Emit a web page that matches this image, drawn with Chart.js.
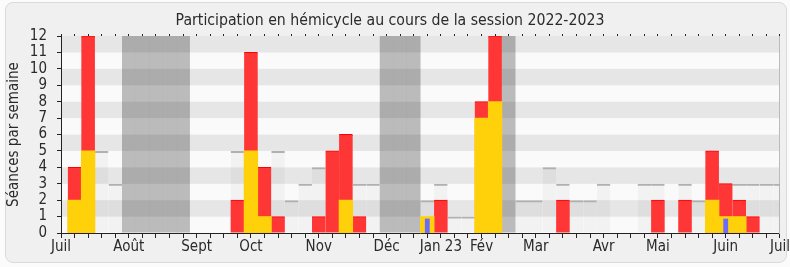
<!DOCTYPE html>
<html>
<head>
<meta charset="utf-8">
<script src="https://cdn.jsdelivr.net/npm/chart.js@4.4.1/dist/chart.umd.min.js"></script>
<style>
  html, body { margin: 0; padding: 0; background: #fbfbfb; }
  #wrap { position: relative; width: 790px; height: 267px; }
  #panel { position: absolute; left: 5px; top: 2px; width: 782px; height: 261px; box-sizing: border-box;
           border: 1px solid #dadada; border-radius: 8px; background: #f0f0f0; }
  canvas { position: absolute; left: 0; top: 0; }
</style>
</head>
<body>
<div id="wrap">
  <div id="panel"></div>
  <canvas id="chart" width="790" height="267"></canvas>
</div>
<script>
// one entry per week, week 0 = start of July 2022, week 53 = start of July 2023
const weekLabels = ["Juil", "", "", "", "", "Août", "", "", "", "", "Sept", "", "", "", "Oct", "", "", "", "", "Nov",
  "", "", "", "", "Déc", "", "", "", "Jan 23", "", "", "Fév", "", "", "", "Mar", "", "", "", "",
  "Avr", "", "", "", "Mai", "", "", "", "", "Juin", "", "", "", "Juil"]

const presences = [0, 4, 12, 0, 0, 0, 0, 0, 0, 0, 0, 0, 0, 2, 11, 4, 1, 0, 0, 1,
  5, 6, 1, 0, 0, 0, 0, 0, 2, 0, 0, 8, 12, 0, 0, 0, 0, 2, 0, 0,
  0, 0, 0, 0, 2, 0, 2, 0, 5, 3, 2, 1, 0, 0]

const interventions = [0, 2, 5, 0, 0, 0, 0, 0, 0, 0, 0, 0, 0, 0, 5, 1, 0, 0, 0, 0,
  0, 2, 0, 0, 0, 0, 0, 1, 0, 0, 0, 7, 8, 0, 0, 0, 0, 0, 0, 0,
  0, 0, 0, 0, 0, 0, 0, 0, 2, 1, 1, 0, 0, 0]

const questions = [0, 0, 0, 0, 0, 0, 0, 0, 0, 0, 0, 0, 0, 0, 0, 0, 0, 0, 0, 0,
  0, 0, 0, 0, 0, 0, 0, 0.85, 0, 0, 0, 0, 0, 0, 0, 0, 0, 0, 0, 0,
  0, 0, 0, 0, 0, 0, 0, 0, 0, 0.85, 0, 0, 0, 0]

const seances = [0, 4, 12, 5, 3, 0, 0, 0, 0, 0, 0, 0, 0, 5, 11, 4, 5, 2, 3, 4,
  5, 6, 3, 3, 0, 0, 0, 2, 3, 1, 1, 8, 12, 0, 2, 2, 4, 3, 2, 2,
  3, 0, 0, 3, 3, 0, 3, 2, 5, 3, 3, 3, 3, 3]

const vacances = [0, 0, 0, 0, 0, 12, 12, 12, 12, 12, 0, 0, 0, 0, 0, 0, 0, 0, 0, 0,
  0, 0, 0, 0, 12, 12, 12, 0, 0, 0, 0, 0, 0, 12, 0, 0, 0, 0, 0, 0,
  0, 0, 0, 0, 0, 0, 0, 0, 0, 0, 0, 0, 0, 0]

// empty weeks get no bar at all
const bars = arr => arr.map(v => v || null)

Chart.defaults.font.family = "'DejaVu Sans Condensed', 'DejaVu Sans', sans-serif"
Chart.defaults.color = "#2a2a2a"

// alternating horizontal stripes behind the bars
const stripes = {
  id: "stripes",
  beforeDraw(chart) {
    const { ctx, chartArea: a, scales: { y } } = chart
    ctx.save()
    for (let v = 0; v < 12; v++) {
      const top = y.getPixelForValue(v + 1)
      const bottom = y.getPixelForValue(v)
      ctx.fillStyle = v % 2 ? "#e6e6e6" : "#fafafa"
      ctx.fillRect(a.left, top, a.right - a.left, bottom - top)
    }
    ctx.restore()
  }
}

new Chart(document.getElementById("chart"), {
  type: "bar",
  data: {
    labels: weekLabels,
    datasets: [
      { label: "Questions orales", data: bars(questions), backgroundColor: "#6b6bff", barThickness: 4, order: 0 },
      { label: "Interventions", data: bars(interventions), backgroundColor: "#ffd10a", order: 1 },
      { label: "Présences", data: bars(presences), backgroundColor: "#ff3636",
        borderColor: "#ff0000", borderWidth: { top: 1 }, order: 2 },
      { label: "Séances", data: bars(seances), backgroundColor: "rgba(0,0,0,0.03)",
        borderColor: "#b0b0b0", borderWidth: { top: 2 }, inflateAmount: 0, order: 3 },
      { label: "Vacances", data: bars(vacances), backgroundColor: "rgba(0,0,0,0.25)", inflateAmount: 0.05, order: 4 }
    ]
  },
  options: {
    responsive: false,
    animation: false,
    layout: { padding: { left: 0, right: 10, top: 0, bottom: 4 } },
    datasets: { bar: { grouped: false, barPercentage: 1, categoryPercentage: 1, inflateAmount: 0.4 } },
    plugins: {
      legend: { display: false },
      tooltip: { enabled: false },
      title: {
        display: true,
        text: "Participation en hémicycle au cours de la session 2022-2023",
        color: "#2a2a2a",
        font: { size: 15.7, weight: "normal" },
        padding: { top: 11.8, bottom: 3.36 }
      }
    },
    scales: {
      x: {
        offset: false,
        ticks: { autoSkip: false, maxRotation: 0, minRotation: 0, font: { size: 15 }, padding: 0 },
        grid: { drawOnChartArea: false, offset: false, color: "#222", tickLength: 5 },
        border: { color: "#222" },
        afterFit(s) { s.height = 30 }
      },
      x2: {
        type: "category",
        labels: weekLabels,
        position: "top",
        offset: false,
        ticks: { display: false },
        grid: { drawOnChartArea: false, offset: false, color: "#222", tickLength: 2 },
        border: { display: false },
        afterFit(s) { s.height = 2 }
      },
      y: {
        min: 0,
        max: 12,
        ticks: { stepSize: 1, autoSkip: false, font: { size: 15 }, padding: 10 },
        grid: { drawOnChartArea: false, color: "#222", tickLength: 4 },
        border: { color: "#222" },
        title: { display: true, text: "Séances par semaine", font: { size: 15 }, padding: { top: 5, bottom: 0 } },
        afterFit(s) { s.width = 61 }
      },
      y2: {
        position: "right",
        min: 0,
        max: 12,
        ticks: { display: false },
        grid: { display: false },
        border: { color: "#bbb" },
        afterFit(s) { s.width = 0 }
      }
    }
  },
  plugins: [stripes]
})
</script>
</body>
</html>
